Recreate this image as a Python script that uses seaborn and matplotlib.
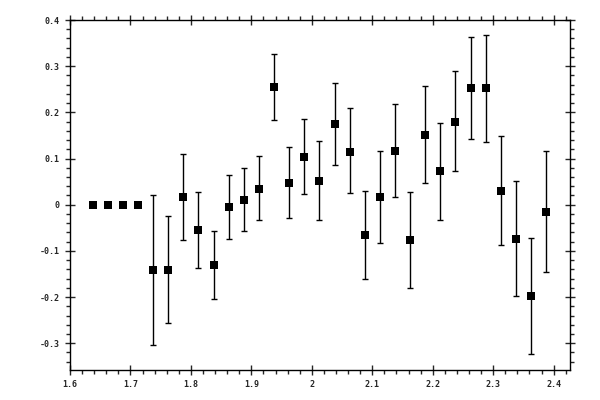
import numpy as np
import pandas as pd
import matplotlib
matplotlib.use('Agg')
import matplotlib.pyplot as plt
import seaborn as sns
from matplotlib.ticker import MultipleLocator

sns.set_style("ticks")
plt.rcParams['font.family'] = ['DejaVu Sans Mono']

# Werte
x_vals = [1.6375, 1.6625, 1.6875, 1.7125, 1.7375, 1.7625, 1.7875, 1.8125,
          1.8375, 1.8625, 1.8875, 1.9125, 1.9375, 1.9625, 1.9875, 2.0125,
          2.0375, 2.0625, 2.0875, 2.1125, 2.1375, 2.1625, 2.1875, 2.2125,
          2.2375, 2.2625, 2.2875, 2.3125, 2.3375, 2.3625, 2.3875]
y_vals = [0.0, 0.0, 0.0, 0.0, -0.141, -0.141, 0.017, -0.054,
          -0.130, -0.005, 0.011, 0.035, 0.254, 0.048, 0.104, 0.052,
          0.174, 0.115, -0.065, 0.017, 0.117, -0.076, 0.152, 0.072,
          0.180, 0.252, 0.252, 0.030, -0.074, -0.198, -0.015]
y_hi = [np.nan, np.nan, np.nan, np.nan, 0.022, -0.025, 0.110, 0.027,
        -0.057, 0.065, 0.080, 0.105, 0.326, 0.125, 0.185, 0.137,
        0.263, 0.209, 0.030, 0.117, 0.217, 0.028, 0.257, 0.178,
        0.289, 0.363, 0.368, 0.148, 0.052, -0.072, 0.117]
y_lo = [np.nan, np.nan, np.nan, np.nan, -0.304, -0.257, -0.076, -0.137,
        -0.204, -0.074, -0.057, -0.033, 0.183, -0.028, 0.024, -0.033,
        0.085, 0.025, -0.161, -0.083, 0.017, -0.180, 0.046, -0.033,
        0.072, 0.142, 0.135, -0.087, -0.198, -0.324, -0.146]
x_labels = ['1.6', '1.7', '1.8', '1.9', '2', '2.1', '2.2', '2.3', '2.4']
y_labels = ['-0.3', '-0.2', '-0.1', '0', '0.1', '0.2', '0.3', '0.4']

df = pd.DataFrame({'x': x_vals, 'y': y_vals, 'hi': y_hi, 'lo': y_lo})
err = df.dropna()

fig = plt.figure(figsize=(6, 4), dpi=100)
ax = fig.add_axes([70 / 600, 30 / 400, 500 / 600, 350 / 400])

ax.errorbar(err['x'], err['y'],
            yerr=[err['y'] - err['lo'], err['hi'] - err['y']],
            fmt='none', ecolor='black', elinewidth=1.0, capsize=2, capthick=1.0)
sns.scatterplot(data=df, x='x', y='y', marker='s', s=30, color='black',
                edgecolor='black', linewidth=0, ax=ax, zorder=3)

ax.set_xlim(1.6, 2.427)
ax.set_ylim(-0.358, 0.4)
ax.xaxis.set_minor_locator(MultipleLocator(0.02))
ax.yaxis.set_minor_locator(MultipleLocator(0.02))
ax.set_xticks(np.arange(1.6, 2.45, 0.1))
ax.set_xticklabels(x_labels)
ax.set_yticks(np.arange(-0.3, 0.45, 0.1))
ax.set_yticklabels(y_labels)
ax.set_xlabel('')
ax.set_ylabel('')

for s in ax.spines.values():
    s.set_visible(True)
    s.set_linewidth(1.0)
    s.set_color('black')
ax.tick_params(which='major', direction='inout', length=7, width=1.0,
               top=True, right=True, labelsize=6, pad=4)
ax.tick_params(which='minor', direction='out', length=3, width=1.0,
               top=True, right=True)
for lab in ax.get_xticklabels() + ax.get_yticklabels():
    lab.set_fontweight('bold')

plt.savefig('out.png', dpi=100)
plt.close()
